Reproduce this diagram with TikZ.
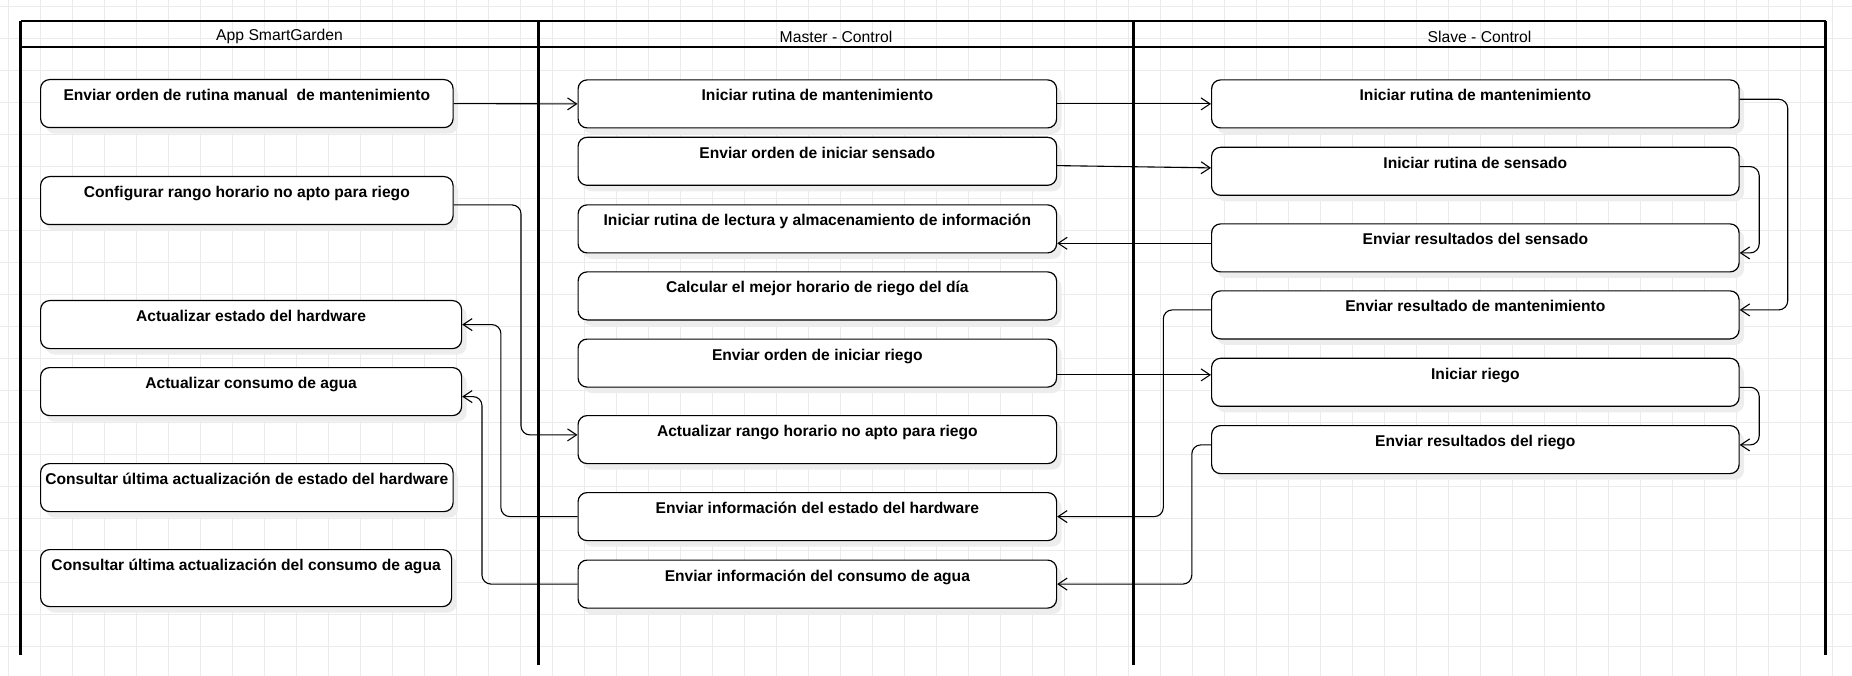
\documentclass[tikz,border=0pt]{standalone}
\usepackage{fontspec}
\setmainfont{Liberation Sans}
\usetikzlibrary{arrows.meta,shadows}

\begin{document}
\begin{tikzpicture}[x=1pt, y=-1pt,
    every node/.style={font=\fontsize{15.7}{18}\selectfont},
    act/.style={draw, fill=white, rounded corners=9pt, line width=1.2pt, anchor=north west,
      inner xsep=0pt, inner ysep=0pt, text height=21pt, text depth=27pt, minimum height=48pt,
      font=\fontsize{15.6}{18}\selectfont\bfseries,
      drop shadow={shadow xshift=5pt, shadow yshift=-6pt, fill=black!7, opacity=1}},
    lane/.style={line width=2.2pt},
    flow/.style={line width=1.1pt, rounded corners=9pt, -{Straight Barb[length=9pt,width=12pt]}},
    gridline/.style={black!8, line width=0.8pt}]
\useasboundingbox (0,0) rectangle (1852,676);
% grid
\foreach \k in {0,...,57} \draw[gridline] ({8.3+32*\k},0) -- ++(0,676);
\foreach \k in {0,...,20} \draw[gridline] (0,{6.3+32*\k}) -- ++(1852,0);

% lanes
\draw[lane] (20.5,655) -- (20.5,21);
\draw[lane, line width=3pt] (538.5,665) -- (538.5,21);
\draw[lane, line width=3pt] (1133.5,665) -- (1133.5,21);
\draw[lane] (1825.5,655) -- (1825.5,21);
\draw[lane] (20.5,21) -- (1825.5,21);
\draw[lane] (20.5,47) -- (1825.5,47);
\node (AppT) at (279.5,36.5) {App SmartGarden};
\node (MasT) at (836,36.5) {Master - Control};
\node (SlvT) at (1479.5,36.5) {Slave - Control};

% App SmartGarden
\node[act, minimum width=412.5pt] (A1) at (40,79) {Enviar orden de rutina manual\ \ de mantenimiento};
\node[act, minimum width=412.5pt] (A2) at (40,176) {Configurar rango horario no apto para riego};
\node[act, minimum width=421pt] (A3) at (40,300) {Actualizar estado del hardware};
\node[act, minimum width=421pt] (A4) at (40,367) {Actualizar consumo de agua};
\node[act, minimum width=412.5pt] (A5) at (40,463) {Consultar última actualización de estado del hardware};
\node[act, minimum width=411pt, minimum height=57pt, text depth=36pt] (A6) at (40,549) {Consultar última actualización del consumo de agua};

% Master - Control
\node[act, minimum width=478.5pt] (M1) at (577.5,79.3) {Iniciar rutina de mantenimiento};
\node[act, minimum width=478.5pt] (M2) at (577.5,136.7) {Enviar orden de iniciar sensado};
\node[act, minimum width=478.5pt] (M3) at (577.5,204.3) {Iniciar rutina de lectura y almacenamiento de información};
\node[act, minimum width=478.5pt] (M4) at (577.5,271.3) {Calcular el mejor horario de riego del día};
\node[act, minimum width=478.5pt] (M5) at (577.5,338.5) {Enviar orden de iniciar riego};
\node[act, minimum width=478.5pt] (M6) at (577.5,415) {Actualizar rango horario no apto para riego};
\node[act, minimum width=478.5pt] (M7) at (577.5,492) {Enviar información del estado del hardware};
\node[act, minimum width=478.5pt] (M8) at (577.5,559.5) {Enviar información del consumo de agua};

% Slave - Control
\node[act, minimum width=527.5pt] (S1) at (1211,79.3) {Iniciar rutina de mantenimiento};
\node[act, minimum width=527.5pt] (S2) at (1211,146.7) {Iniciar rutina de sensado};
\node[act, minimum width=527.5pt] (S3) at (1211,223.3) {Enviar resultados del sensado};
\node[act, minimum width=527.5pt] (S4) at (1211,290.3) {Enviar resultado de mantenimiento};
\node[act, minimum width=527.5pt] (S5) at (1211,357.7) {Iniciar riego};
\node[act, minimum width=527.5pt] (S6) at (1211,425) {Enviar resultados del riego};

% connectors
\draw[flow] (A1.east) -- (M1.west);
\draw[flow] (M1.east) -- (S1.west);
\draw[flow] ([yshift=-4.3pt]M2.east) -- ([yshift=3.4pt]S2.west);
\draw[flow] ([yshift=4.6pt]S3.west) -- ([yshift=4.6pt]S3.west -| M3.east);
\draw[flow] ([yshift=-11.8pt]M5.east) -- ([yshift=7.4pt]S5.west);
\draw[flow] ([yshift=4.6pt]S1.east) -- ++(48,0) |- ([yshift=5pt]S4.east);
\draw[flow] ([yshift=4.7pt]S2.east) -- ++(19.5,0) |- ([yshift=-5pt]S3.east);
\draw[flow] ([yshift=-5pt]S5.east) -- ++(19.5,0) |- ([yshift=4.7pt]S6.east);
\draw[flow] ([yshift=5pt]S4.west) -- ++(-47.7,0) |- (M7.east);
\draw[flow] ([yshift=4.7pt]S6.west) -- ++(-19.2,0) |- (M8.east);
\draw[flow] ([yshift=-4.3pt]A2.east) -- ++(67.3,0) |- ([yshift=4.7pt]M6.west);
\draw[flow] (M7.west) -- ++(-76.6,0) |- (A3.east);
\draw[flow] (M8.west) -- ++(-95.5,0) |- ([yshift=-5pt]A4.east);
\end{tikzpicture}
\end{document}
